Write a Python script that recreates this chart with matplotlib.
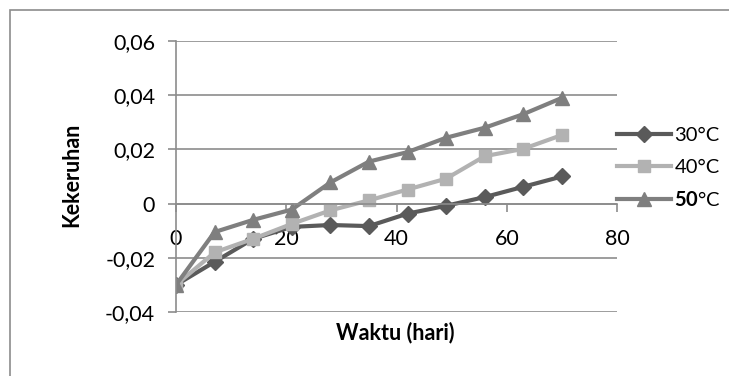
import matplotlib.pyplot as plt
from matplotlib.patches import Rectangle

plt.rcParams['font.family'] = ['Lato', 'DejaVu Sans']
plt.rcParams['mathtext.fontset'] = 'custom'
plt.rcParams['mathtext.bf'] = 'Lato:bold'

# Turbidity readings over storage time (days)
days = [0, 7, 14, 21, 28, 35, 42, 49, 56, 63, 70]
t30 = [-0.030, -0.0215, -0.013, -0.0086, -0.0079, -0.0083, -0.0037, -0.0008, 0.0024, 0.0062, 0.0100]
t40 = [-0.030, -0.0180, -0.0130, -0.0075, -0.0025, 0.0012, 0.0052, 0.0092, 0.0175, 0.0202, 0.0253]
t50 = [-0.030, -0.0105, -0.0060, -0.0022, 0.0078, 0.0155, 0.0190, 0.0243, 0.0280, 0.0330, 0.0390]

labels = ['30°C', '40°C', r'$\mathbf{50}$°C']
colors = ['#5a5a5a', '#b2b2b2', '#7f7f7f']
markers = ['D', 's', '^']
sizes = [8, 9, 10]

fig = plt.figure(figsize=(7.29, 3.76), dpi=100)
ax = fig.add_axes([176 / 729, 1 - 312 / 376, 441 / 729, 271 / 376])

# chart border
fig.patches.append(Rectangle((10 / 729, -0.1), 1.2, 1.1 - 10 / 376,
                             transform=fig.transFigure, fill=False,
                             edgecolor='#8c8c8c', linewidth=1.2))

for ys, lab, c, m, s in zip([t30, t40, t50], labels, colors, markers, sizes):
    ax.plot(days, ys, color=c, marker=m, markersize=s, linewidth=3, label=lab)

ax.set_xlim(0, 80)
ax.set_ylim(-0.04, 0.06)
ax.set_xticks([0, 20, 40, 60, 80])
ax.set_yticks([-0.04, -0.02, 0, 0.02, 0.04, 0.06])
ax.set_yticklabels(['-0,04', '-0,02', '0', '0,02', '0,04', '0,06'])

ax.grid(axis='y', color='#8c8c8c', linewidth=1.2)
ax.set_axisbelow(True)
for side in ['top', 'right']:
    ax.spines[side].set_visible(False)
ax.spines['bottom'].set_position(('data', 0))
for side in ['left', 'bottom']:
    ax.spines[side].set_color('#8c8c8c')
    ax.spines[side].set_linewidth(1.2)

ax.tick_params(axis='x', direction='out', length=6, width=1.2, color='#8c8c8c',
               pad=12, labelsize=15.5)
ax.tick_params(axis='y', direction='out', length=6, width=1.2, color='#8c8c8c',
               pad=9, labelsize=15.5)

fig.text(395 / 729, 1 - 333 / 376, 'Waktu (hari)', ha='center', va='center',
         fontsize=15.5, fontweight='bold')
fig.text(72 / 729, 1 - 175 / 376, 'Kekeruhan', ha='center', va='center',
         rotation=90, fontsize=15.5, fontweight='bold')

ax.legend(loc='center left', bbox_to_anchor=(1.0, 0.531), frameon=False,
          fontsize=14.5, handlelength=2.7, handletextpad=0.15, borderaxespad=0,
          borderpad=0, labelspacing=0.72)

fig.savefig('out.png', dpi=100)
